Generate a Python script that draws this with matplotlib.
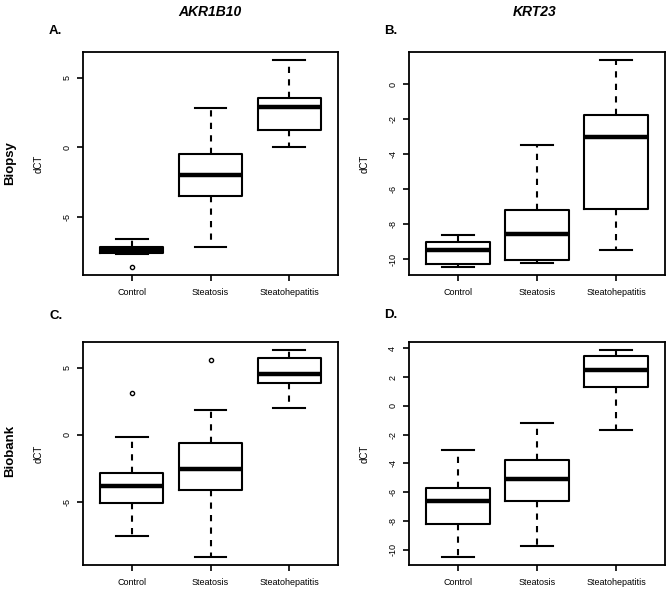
#!/usr/bin/env python3
"""Boxplots of dCT for AKR1B10 and KRT23 in biopsy and biobank samples."""

import matplotlib

matplotlib.use("Agg")
import matplotlib.pyplot as plt  # noqa: I001
from matplotlib.ticker import MultipleLocator

GROUPS = ["Control", "Steatosis", "Steatohepatitis"]

# five-number summaries per group: [whisker low, q1, median, q3, whisker high]
akr1b10_biopsy = [
    [-7.65, -7.6, -7.4, -7.15, -6.6],
    [-7.2, -3.5, -2.0, -0.5, 2.83],
    [0.0, 1.23, 2.92, 3.57, 6.25],
]
akr1b10_biopsy_outliers = [[-8.6], [], []]

krt23_biopsy = [
    [-10.42, -10.25, -9.47, -9.01, -8.61],
    [-10.19, -10.06, -8.57, -7.2, -3.49],
    [-9.49, -7.1, -3.01, -1.77, 1.37],
]
krt23_biopsy_outliers = [[], [], []]

akr1b10_biobank = [
    [-7.6, -5.08, -3.83, -2.9, -0.2],
    [-9.12, -4.13, -2.57, -0.65, 1.85],
    [1.98, 3.85, 4.53, 5.73, 6.3],
]
akr1b10_biobank_outliers = [[3.1], [5.55], []]

krt23_biobank = [
    [-10.49, -8.18, -6.64, -5.72, -3.05],
    [-9.76, -6.64, -5.09, -3.8, -1.18],
    [-1.7, 1.33, 2.52, 3.43, 3.86],
]
krt23_biobank_outliers = [[], [], []]

plt.rcParams["font.family"] = ["Liberation Sans", "DejaVu Sans"]
plt.rcParams["axes.unicode_minus"] = False


def draw_panel(ax, summaries, outliers, step):
    stats = []
    for name, (lo, q1, med, q3, hi), fl in zip(GROUPS, summaries, outliers):
        stats.append(
            {"label": name, "whislo": lo, "q1": q1, "med": med, "q3": q3, "whishi": hi, "fliers": fl}
        )
    ax.bxp(
        stats,
        widths=0.8,
        capwidths=0.4,
        boxprops={"linewidth": 1.5, "color": "black"},
        medianprops={"linewidth": 3.2, "color": "black", "solid_capstyle": "butt"},
        whiskerprops={"linewidth": 1.5, "color": "black", "linestyle": (0, (3, 3))},
        capprops={"linewidth": 1.5, "color": "black"},
        flierprops={
            "marker": "o",
            "markerfacecolor": "none",
            "markeredgecolor": "black",
            "markersize": 3,
            "markeredgewidth": 1,
        },
    )
    # R style axis limits: data range plus 4 %
    values = [v for s in summaries for v in s] + [v for fl in outliers for v in fl]
    lo, hi = min(values), max(values)
    pad = 0.04 * (hi - lo)
    ax.set_ylim(lo - pad, hi + pad)
    n = len(GROUPS)
    ax.set_xlim(0.5 - 0.04 * n, n + 0.5 + 0.04 * n)
    ax.yaxis.set_major_locator(MultipleLocator(step))
    ax.tick_params(axis="both", labelsize=6.5, length=4.5, width=1.2, direction="out")
    ax.tick_params(axis="x", pad=5)
    ax.tick_params(axis="y", pad=4)
    for label in ax.get_yticklabels():
        label.set_rotation(90)
        label.set_va("center")
    for spine in ax.spines.values():
        spine.set_linewidth(1.3)
    ax.set_ylabel("dCT", fontsize=7)
    ax.yaxis.set_label_coords(-0.155, 0.5)


fig = plt.figure(figsize=(6.7, 5.92), dpi=100)
W, H = 670, 592


def axes_at(x0, y0, x1, y1):
    return fig.add_axes([x0 / W, 1 - y1 / H, (x1 - x0) / W, (y1 - y0) / H])


ax_a = axes_at(83, 52, 338, 275)
ax_b = axes_at(409, 52, 665, 275)
ax_c = axes_at(83, 342, 338, 565)
ax_d = axes_at(409, 342, 665, 565)

draw_panel(ax_a, akr1b10_biopsy, akr1b10_biopsy_outliers, 5)
draw_panel(ax_b, krt23_biopsy, krt23_biopsy_outliers, 2)
draw_panel(ax_c, akr1b10_biobank, akr1b10_biobank_outliers, 5)
draw_panel(ax_d, krt23_biobank, krt23_biobank_outliers, 2)

fig.text(210 / W, 1 - 12 / H, "AKR1B10", ha="center", va="center",
         fontsize=10, fontweight="bold", fontstyle="italic")
fig.text(535 / W, 1 - 12 / H, "KRT23", ha="center", va="center",
         fontsize=10, fontweight="bold", fontstyle="italic")

for letter, x, y in [("A.", 49, 31), ("B.", 384, 31), ("C.", 49, 316), ("D.", 384, 315)]:
    fig.text(x / W, 1 - y / H, letter, ha="left", va="center", fontsize=9.5, fontweight="bold")

fig.text(10 / W, 1 - 163 / H, "Biopsy", rotation=90, ha="center", va="center",
         fontsize=9.5, fontweight="bold")
fig.text(10 / W, 1 - 451 / H, "Biobank", rotation=90, ha="center", va="center",
         fontsize=9.5, fontweight="bold")

fig.savefig("out.png", dpi=100)
plt.close(fig)
